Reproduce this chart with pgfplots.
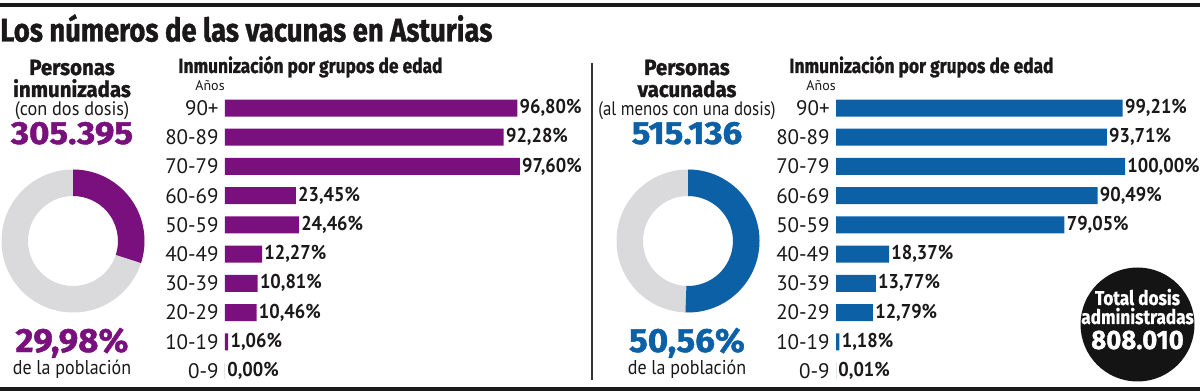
\documentclass[border=0pt]{standalone}
\usepackage{pgfplots}
\pgfplotsset{compat=1.18}
\usepackage{pgfplotstable}
\usepackage{fontspec}
\setmainfont{PT Sans}
\newfontfamily\fira{Fira Sans}[BoldFeatures={FakeBold=1.3}]
\newfontfamily\firab{Fira Sans}[BoldFeatures={FakeBold=0.8}]
\definecolor{cpurple}{RGB}{122,16,126}
\definecolor{cblue}{RGB}{12,96,166}
\definecolor{cgrey}{RGB}{218,218,221}
\definecolor{ctext}{RGB}{26,24,24}

\pgfplotstableread{
i v
0 96.80
1 92.28
2 97.60
3 23.45
4 24.46
5 12.27
6 10.81
7 10.46
8 1.06
9 0.00
}\inmunizados
\pgfplotstableread{
i v
0 99.21
1 93.71
2 100.00
3 90.49
4 79.05
5 18.37
6 13.77
7 12.79
8 1.18
9 0.01
}\vacunados

\pgfplotsset{
  agebars/.style={
    scale only axis, anchor=north west,
    height=146.1pt,
    xmin=0, xmax=100, ymin=-0.5, ymax=9.5, y dir=reverse,
    enlargelimits=false, clip=false,
    xbar, bar width=8.5pt,
    axis line style={draw=none}, major tick length=0pt,
    xtick=\empty, ytick={0,...,9},
    yticklabels={90+,80-89,70-79,60-69,50-59,40-49,30-39,20-29,10-19,0-9},
    yticklabel style={font=\fontsize{10.5}{11}\selectfont, text=ctext, anchor=east, inner sep=0pt, xshift=-3pt},
    point meta=x,
    nodes near coords={\scalebox{0.92}[1]{\pgfmathprintnumber[assume math mode=true,fixed,fixed zerofill,precision=2,use comma]{\pgfplotspointmeta}\%}},
    nodes near coords style={font=\bfseries\fontsize{10}{11}\selectfont, text=ctext, anchor=west, inner sep=1pt},
  }
}

\begin{document}
\begin{tikzpicture}[x=0.5pt,y=0.5pt]
\useasboundingbox (0,0) rectangle (1200,391);
% rules
\fill[black!90] (0,384) rectangle (1200,388);
\fill[black!90] (0,0) rectangle (1200,4);
\draw[black!80, line width=0.6pt] (592,328) -- (592,11);

% title
\node[anchor=base west, inner sep=0pt, text=ctext] at (0,349.5) {\scalebox{0.84}[1]{\fira\bfseries\fontsize{16.3}{18}\selectfont Los números de las vacunas en Asturias}};

% ---- left panel ----
\node[anchor=base, inner sep=0pt, text=ctext] at (72,316) {\scalebox{0.93}[1]{\fira\bfseries\fontsize{11}{12}\selectfont Personas}};
\node[anchor=base, inner sep=0pt, text=ctext] at (72,294) {\scalebox{0.93}[1]{\fira\bfseries\fontsize{11}{12}\selectfont inmunizadas}};
\node[anchor=base, inner sep=0pt, text=ctext] at (72,275) {\scalebox{0.93}[1]{\fontsize{9.8}{10}\selectfont (con dos dosis)}};
\node[anchor=base, inner sep=0pt, text=cpurple] at (72,247) {\scalebox{1.09}[1]{\fira\bfseries\fontsize{16}{17}\selectfont 305.395}};
\node[anchor=base, inner sep=0pt, text=cpurple] at (72,39) {\scalebox{1.04}[1]{\fira\bfseries\fontsize{16.8}{18}\selectfont 29,98\%}};
\node[anchor=base, inner sep=0pt, text=ctext] at (72,17) {\scalebox{0.9}[1]{\fontsize{10}{11}\selectfont de la población}};

\def\pctA{29.98}
\fill[cgrey, even odd rule] (73,150) circle (71.5) (73,150) circle (45);
\pgfmathsetmacro\endA{90-3.6*\pctA}
\fill[cpurple] ([shift={(90:71.5)}]73,150) arc[start angle=90, end angle=\endA, radius=71.5]
  -- ([shift={(\endA:45)}]73,150) arc[start angle=\endA, end angle=90, radius=45] -- cycle;

\node[anchor=base west, inner sep=0pt, text=ctext] at (178,318) {\scalebox{0.85}[1]{\fira\bfseries\fontsize{10.2}{11}\selectfont Inmunización por grupos de edad}};
\node[anchor=base west, inner sep=0pt, text=ctext] at (195,300) {\fontsize{7}{8}\selectfont Años};

\begin{axis}[agebars, at={(112.5pt,148.8pt)}, width=151pt]
\addplot[fill=cpurple, draw=none] table[x=v, y=i] {\inmunizados};
\end{axis}

% ---- right panel ----
\node[anchor=base, inner sep=0pt, text=ctext] at (687,316) {\scalebox{0.93}[1]{\fira\bfseries\fontsize{11}{12}\selectfont Personas}};
\node[anchor=base, inner sep=0pt, text=ctext] at (687,294) {\scalebox{0.93}[1]{\fira\bfseries\fontsize{11}{12}\selectfont vacunadas}};
\node[anchor=base, inner sep=0pt, text=ctext] at (687,275) {\scalebox{0.86}[1]{\fontsize{9.8}{10}\selectfont (al menos con una dosis)}};
\node[anchor=base, inner sep=0pt, text=cblue] at (687,247) {\scalebox{1.09}[1]{\fira\bfseries\fontsize{16}{17}\selectfont 515.136}};
\node[anchor=base, inner sep=0pt, text=cblue] at (687,39) {\scalebox{1.04}[1]{\fira\bfseries\fontsize{16.8}{18}\selectfont 50,56\%}};
\node[anchor=base, inner sep=0pt, text=ctext] at (687,17) {\scalebox{0.9}[1]{\fontsize{10}{11}\selectfont de la población}};

\def\pctB{50.56}
\fill[cgrey, even odd rule] (688,150) circle (71.5) (688,150) circle (45);
\pgfmathsetmacro\endB{90-3.6*\pctB}
\fill[cblue] ([shift={(90:71.5)}]688,150) arc[start angle=90, end angle=\endB, radius=71.5]
  -- ([shift={(\endB:45)}]688,150) arc[start angle=\endB, end angle=90, radius=45] -- cycle;

\node[anchor=base west, inner sep=0pt, text=ctext] at (789,318) {\scalebox{0.85}[1]{\fira\bfseries\fontsize{10.2}{11}\selectfont Inmunización por grupos de edad}};
\node[anchor=base west, inner sep=0pt, text=ctext] at (806,300) {\fontsize{7}{8}\selectfont Años};

\begin{axis}[agebars, at={(418pt,148.8pt)}, width=144.5pt]
\addplot[fill=cblue, draw=none] table[x=v, y=i] {\vacunados};
\end{axis}

% total circle
\fill[black!92] (1137.5,66.5) circle (57);
\node[anchor=base, inner sep=0pt, text=white] at (1137.5,86) {\scalebox{0.86}[1]{\firab\bfseries\fontsize{10}{11}\selectfont Total dosis}};
\node[anchor=base, inner sep=0pt, text=white] at (1137.5,67) {\scalebox{0.86}[1]{\firab\bfseries\fontsize{10}{11}\selectfont administradas}};
\node[anchor=base, inner sep=0pt, text=white] at (1137.5,42) {\scalebox{0.97}[1]{\fira\bfseries\fontsize{13.3}{15}\selectfont 808.010}};
\end{tikzpicture}
\end{document}
